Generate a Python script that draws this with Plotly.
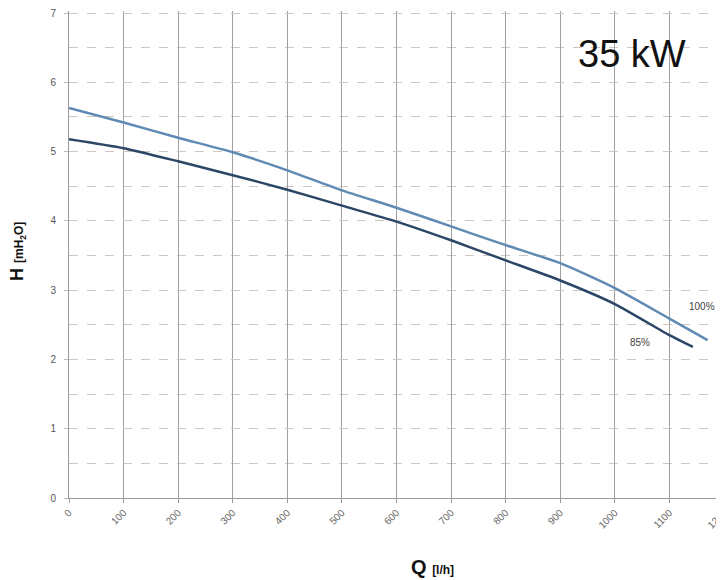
import plotly.graph_objects as go

q_100 = [0, 100, 200, 300, 400, 500, 600, 700, 800, 900, 1000, 1100, 1170]
h_100 = [5.63, 5.42, 5.20, 4.99, 4.73, 4.44, 4.19, 3.92, 3.65, 3.39, 3.03, 2.59, 2.28]
q_85 = [0, 100, 200, 300, 400, 500, 600, 700, 800, 900, 1000, 1100, 1143]
h_85 = [5.18, 5.05, 4.86, 4.66, 4.45, 4.22, 3.99, 3.72, 3.43, 3.14, 2.80, 2.35, 2.18]
x_ticks = list(range(0, 1300, 100))
y_ticks = list(range(0, 8))

# page body has an 8px margin; figure is drawn offset by 8px
OFF = 8
FW, FH = 724 - OFF, 580 - OFF
L, T, W, H = 69, 11, 655, 487  # plot area in window pixels

def px(xp):
    return (xp - L) / W

def py(yp):
    return 1 - (yp - T) / H

fig = go.Figure()
fig.add_trace(go.Scatter(x=q_100, y=h_100, mode="lines", line=dict(color="#5f8ab3", width=2.5, shape="spline", smoothing=0.6), name="100%"))
fig.add_trace(go.Scatter(x=q_85, y=h_85, mode="lines", line=dict(color="#2b4666", width=2.5, shape="spline", smoothing=0.6), name="85%"))

fig.update_layout(
    width=FW, height=FH,
    margin=dict(l=L - OFF, r=FW - (L - OFF) - W, t=T - OFF, b=FH - (T - OFF) - H, pad=0, autoexpand=False),
    plot_bgcolor="white", paper_bgcolor="white",
    showlegend=False,
    font=dict(family="Liberation Sans, Arial, sans-serif", color="#555"),
    xaxis=dict(range=[0, 1200], tickvals=x_ticks, tickangle=-45, automargin=False, ticklabeloverflow="allow",
               showgrid=True, gridcolor="#a0a0a0", gridwidth=1,
               showline=True, linecolor="#999", linewidth=1,
               ticks="outside", ticklen=4, tickcolor="#999",
               tickfont=dict(size=10, color="#666"), zeroline=False),
    yaxis=dict(range=[0, 7.03], tickvals=y_ticks, automargin=False, ticklabeloverflow="allow",
               showgrid=True, gridcolor="#cfc6c3", griddash="dash", gridwidth=1,
               minor=dict(dtick=0.5, showgrid=True, gridcolor="#cfc6c3", griddash="dash", gridwidth=1),
               showline=True, linecolor="#999", linewidth=1,
               ticks="outside", ticklen=4, tickcolor="#bbb",
               tickfont=dict(size=10, color="#555"), zeroline=False, ticklabelstandoff=6),
)

fig.add_annotation(text="35 kW", x=px(632), y=py(54), xref="paper", yref="paper",
                   xanchor="center", yanchor="middle", showarrow=False,
                   font=dict(size=38, color="#111", family="Liberation Sans, Arial, sans-serif"))

fig.add_annotation(text="100%", x=1160, y=2.77, showarrow=False, font=dict(size=10, color="#444"))
fig.add_annotation(text="85%", x=1046, y=2.25, showarrow=False, font=dict(size=10, color="#444"))

fig.add_annotation(text="<b>Q</b> <b><span style='font-size:12px'>[l/h]</span></b>", xref="paper", yref="paper",
                   x=px(432), y=py(567), xanchor="center", yanchor="middle",
                   showarrow=False, font=dict(size=20, color="#111"))
fig.add_annotation(text="<b>H</b> <b><span style='font-size:12px'>[mH<sub>2</sub>O]</span></b>", xref="paper", yref="paper",
                   x=px(18), y=py(252), xanchor="center", yanchor="middle",
                   textangle=-90, showarrow=False, font=dict(size=18, color="#111"))

fig.write_html("out.html")
